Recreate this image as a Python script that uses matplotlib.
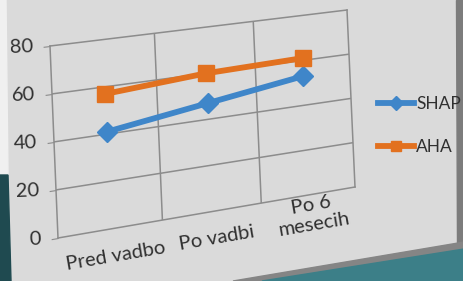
import numpy as np
import matplotlib.pyplot as plt
from matplotlib.transforms import Transform
from matplotlib.patches import Polygon
import mpl_toolkits.axisartist.floating_axes as floating_axes
from mpl_toolkits.axisartist.grid_finder import FixedLocator, DictFormatter

categories = ["Pred vadbo", "Po vadbi", "Po 6\nmesecih"]
shap = [41, 47, 53]
aha = [57, 60, 61]
y_ticks = [0, 20, 40, 60, 80]

plt.rcParams['font.family'] = ['Lato', 'DejaVu Sans']

blue = "#3f86c9"
orange = "#e2711f"
grid_col = "#8c8c8c"
txt_col = "#303030"
W, H = 464, 281


class Homography(Transform):
    # the chart is a photo of a slide: the plot area is seen in perspective
    input_dims = output_dims = 2
    is_separable = False
    has_inverse = True

    def __init__(self, m):
        super().__init__()
        self.m = m

    def transform_non_affine(self, values):
        v = np.asarray(values, dtype=float).reshape(-1, 2)
        p = np.column_stack([v, np.ones(len(v))]) @ self.m.T
        return p[:, :2] / p[:, 2:3]

    def inverted(self):
        return Homography(np.linalg.inv(self.m))


def fit_homography(src, dst):
    rows, rhs = [], []
    for (x, y), (u, v) in zip(src, dst):
        rows.append([x, y, 1, 0, 0, 0, -u * x, -u * y]); rhs.append(u)
        rows.append([0, 0, 0, x, y, 1, -v * x, -v * y]); rhs.append(v)
    h = np.linalg.solve(np.array(rows, float), np.array(rhs, float))
    return np.append(h, 1.0).reshape(3, 3)


n = len(categories)
centers = np.arange(n) + 0.5
ymin, ymax = y_ticks[0], y_ticks[-1]

# plot-area corners in picture pixels (x right, y down)
corners_px = [(58, 238), (355, 187), (50, 46), (347, 10)]
src = [(0, ymin), (n, ymin), (0, ymax), (n, ymax)]
dst = [(x, -y) for x, y in corners_px]
tr = Homography(fit_homography(src, dst))

fig = plt.figure(figsize=(W / 100, H / 100), dpi=100)
fig.patch.set_facecolor("#dadada")


def fpx(pts):
    return [(x / W, 1 - y / H) for x, y in pts]


# bits of the photo around the slide
fig.add_artist(Polygon(fpx([(0, 0), (6, 0), (8, 175), (0, 175)]),
                       transform=fig.transFigure, color="#f0f0f0", zorder=0))
fig.add_artist(Polygon(fpx([(0, 175), (8, 175), (11, 281), (0, 281)]),
                       transform=fig.transFigure, color="#1f4a50", zorder=0))
fig.add_artist(Polygon(fpx([(456, 0), (464, 0), (464, 243), (457, 243)]),
                       transform=fig.transFigure, color="#7c7c7c", zorder=0))
fig.add_artist(Polygon(fpx([(233, 281), (464, 242), (464, 281)]),
                       transform=fig.transFigure, color="#858585", zorder=0))
fig.add_artist(Polygon(fpx([(262, 281), (464, 249), (464, 281)]),
                       transform=fig.transFigure, color="#3c7f88", zorder=0))

xs = [p[0] for p in corners_px]
ys = [p[1] for p in corners_px]
# floating axes pads its limits by 2 %
cx, cy = (min(xs) + max(xs)) / 2, (min(ys) + max(ys)) / 2
bw, bh = (max(xs) - min(xs)) * 1.02, (max(ys) - min(ys)) * 1.02
rect = [(cx - bw / 2) / W, 1 - (cy + bh / 2) / H, bw / W, bh / H]

grid_helper = floating_axes.GridHelperCurveLinear(
    tr,
    extremes=(0, n, ymin, ymax),
    grid_locator1=FixedLocator(list(centers)),
    tick_formatter1=DictFormatter({c: lab for c, lab in zip(centers, categories)}),
    grid_locator2=FixedLocator(y_ticks),
    tick_formatter2=DictFormatter({v: str(v) for v in y_ticks}),
)

ax = fig.add_axes(rect, axes_class=floating_axes.FloatingAxes,
                  grid_helper=grid_helper)
ax.patch.set_facecolor("#dadada")
ax.grid(True, axis="y", color=grid_col, lw=1.1)

for side in ["left", "right", "top", "bottom"]:
    ax.axis[side].line.set_color(grid_col)
    ax.axis[side].line.set_linewidth(1.1)
    ax.axis[side].major_ticks.set_color(grid_col)
for side in ["right", "top"]:
    ax.axis[side].major_ticklabels.set_visible(False)
    ax.axis[side].major_ticks.set_visible(False)

ax.axis["left"].major_ticks.set_tick_out(True)
ax.axis["left"].major_ticks.set_ticksize(5)
ax.axis["left"].major_ticklabels.set_fontsize(14.5)
ax.axis["left"].major_ticklabels.set_color(txt_col)
ax.axis["left"].major_ticklabels.set_pad(7)
ax.axis["bottom"].major_ticks.set_visible(False)
ax.axis["bottom"].major_ticklabels.set_fontsize(14.5)
ax.axis["bottom"].major_ticklabels.set_color(txt_col)
ax.axis["bottom"].major_ticklabels.set_pad(13)

aux = ax.get_aux_axes(tr)
aux.vlines(np.arange(1, n), ymin, ymax, color=grid_col, lw=1.1)
aux.plot(centers, shap, color=blue, lw=4.2, marker="D", ms=10, label="SHAP")
aux.plot(centers, aha, color=orange, lw=4.2, marker="s", ms=11, label="AHA")

handles, labels = aux.get_legend_handles_labels()
fig.legend(handles, labels, loc="center left", bbox_to_anchor=(378 / W, 0.553),
           frameon=False, fontsize=12.5, handlelength=2.1, handletextpad=0.1,
           labelspacing=1.55, borderpad=0, borderaxespad=0, markerscale=0.7,
           labelcolor=txt_col)

fig.savefig("out.png", dpi=100, facecolor=fig.get_facecolor())
